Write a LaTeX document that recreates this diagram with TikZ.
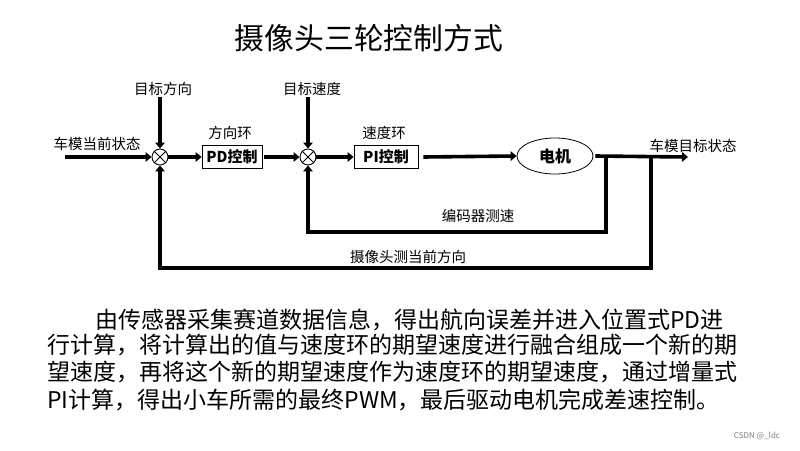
\documentclass[tikz,border=0pt]{standalone}
\usepackage{fontspec}
\setmainfont{Noto Sans CJK SC}
\usetikzlibrary{arrows.meta,shapes.geometric}

\begin{document}
\begin{tikzpicture}[x=1pt,y=-1pt,
  flow/.style={line width=3.6pt,-{Triangle[length=6pt,width=9.5pt]}},
  fbline/.style={line width=3.6pt},
  sumpt/.style={circle,draw,line width=0.9pt,minimum size=16pt,inner sep=0pt},
  ctrl/.style={draw,line width=0.8pt,minimum width=60pt,minimum height=23pt,
    inner sep=0pt,font=\fontsize{15}{15}\selectfont\bfseries},
  lbl/.style={font=\fontsize{14.5}{15}\selectfont,inner sep=0pt},
  para/.style={font=\fontsize{23}{23}\selectfont,anchor=base west,inner sep=0pt}]

\useasboundingbox (0,0) rectangle (800,450);

% title
\node[font=\fontsize{29.8}{30}\selectfont,inner sep=0pt] (title) at (369,38) {摄像头三轮控制方式};

% summing junctions
\node[sumpt] (j1) at (160,157) {};
\draw[line width=0.8pt] (j1.north west) -- (j1.south east) (j1.north east) -- (j1.south west);
\node[sumpt] (j2) at (308,157) {};
\draw[line width=0.8pt] (j2.north west) -- (j2.south east) (j2.north east) -- (j2.south west);

% controllers and plant
\node[ctrl] (pd) at (232,157) {PD控制};
\node[ctrl,minimum width=64pt] (pi) at (386,157) {PI控制};
\node[ellipse,draw,line width=0.8pt,minimum width=76pt,minimum height=36pt,inner sep=0pt,
  font=\fontsize{16}{16}\selectfont\bfseries] (motor) at (555,156) {电机};

% labels
\node[lbl] (lin) at (97,144) {车模当前状态};
\node[lbl] (ldir) at (163,89) {目标方向};
\node[lbl] (lspd) at (312,89) {目标速度};
\node[lbl] (lpd) at (230,133) {方向环};
\node[lbl] (lpi) at (384,133) {速度环};
\node[lbl] (lout) at (693,146) {车模目标状态};
\node[lbl] (lenc) at (478,216) {编码器测速};
\node[lbl] (lcam) at (408,257) {摄像头测当前方向};

% free ends and corners
\coordinate (inA) at (65,157);
\coordinate (dirA) at (160,97);
\coordinate (spdA) at (308,97);
\coordinate (outB) at (688,157);
\coordinate (tapA) at (606,157);
\coordinate (tapB) at (651,157);
\coordinate (cA) at (606,232);
\coordinate (cB) at (651,268);

% forward path
\draw[flow] (inA) -- (j1.west);
\draw[flow] (dirA) -- (j1.north);
\draw[flow] (j1.east) -- (pd.west);
\draw[flow] (pd.east) ++(2,0) -- (j2.west);
\draw[flow] (spdA) -- (j2.north);
\draw[flow] (j2.east) -- (pi.west);
\draw[flow] (pi.east) ++(5,0) -- (motor.west);
\draw[flow] (motor.east) ++(2,0) -- (outB);

% feedback paths
\draw[flow] (tapA) -- (cA) -| (j2.south);
\draw[flow] (tapB) -- (cB) -| (j1.south);

% description
\node[para] (p1) at (95,328) {由传感器采集赛道数据信息，得出航向误差并进入位置式PD进};
\node[para] (p2) at (47,353) {行计算，将计算出的值与速度环的期望速度进行融合组成一个新的期};
\node[para] (p3) at (47,380) {望速度，再将这个新的期望速度作为速度环的期望速度，通过增量式};
\node[para] (p4) at (47,408) {PI计算，得出小车所需的最终PWM，最后驱动电机完成差速控制。};

\node[font=\fontsize{8}{8}\selectfont,text=gray,inner sep=0pt] (mark) at (757,436) {CSDN @\_ldc};
\end{tikzpicture}
\end{document}
